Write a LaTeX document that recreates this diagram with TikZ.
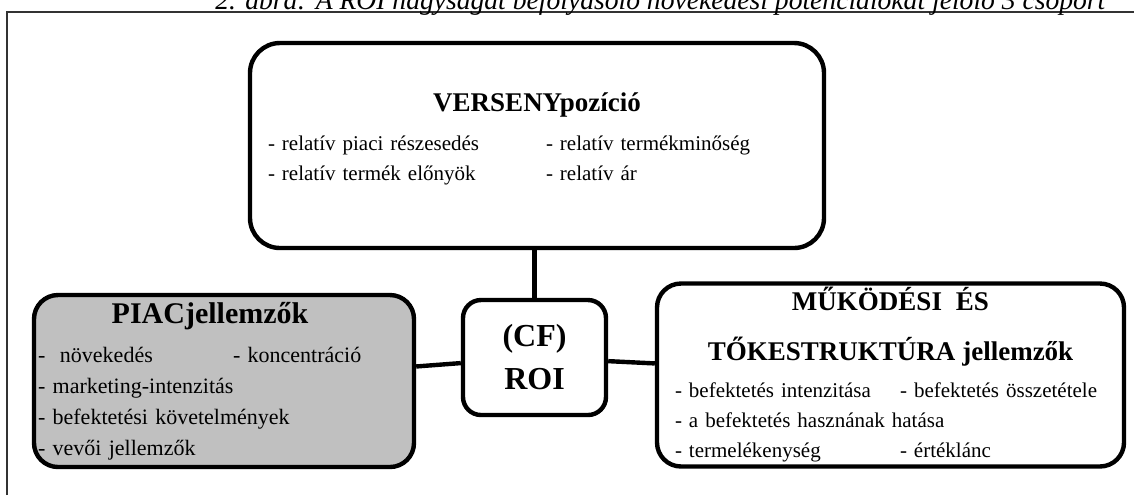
\documentclass[tikz,border=0pt]{standalone}
\usepackage{fontspec}
\setmainfont{Liberation Serif}
\usepackage{xcolor}
\definecolor{piacgray}{RGB}{192,192,192}
\usetikzlibrary{positioning}

\newcommand{\headfont}{\fontsize{13.5}{21}\selectfont\bfseries}
\newcommand{\itemfont}{\fontsize{10.5}{15}\selectfont}

\begin{document}
\begin{tikzpicture}[x=0.5pt, y=-0.5pt,
    box/.style={rectangle, rounded corners=12pt, draw=black, line width=2.2pt,
      inner sep=2pt, align=left, font=\itemfont},
    link/.style={line width=2.2pt},
    frame/.style={line width=0.9pt, black!80}
  ]
    \useasboundingbox (0,0) rectangle (1134,495);

    % Frame and the cut caption
    \draw[frame] (7,495) -- (7,12) -- (1134,12);
    \node[anchor=base west, inner sep=0pt, font=\fontsize{13.8}{16}\selectfont\itshape] (caption) at (215,9)
      {2. ábra: A ROI nagyságát befolyásoló növekedési potenciálokat jelölő 3 csoport};

    % Boxes
    \node[box, rounded corners=15pt, minimum width=287pt, minimum height=102.5pt, text width=269pt] (verseny) at (537,145.5)
      {\vspace*{2pt}{\centering\headfont VERSENYpozíció\par}\vspace{2.5pt}
       \makebox[139pt][l]{- relatív piaci részesedés}- relatív termékminőség\\
       \makebox[139pt][l]{- relatív termék előnyök}- relatív ár\\[-6pt]\mbox{}};
    \node[box, fill=piacgray, minimum width=189pt, minimum height=86pt, text width=186pt,
      font=\fontsize{11}{15.5}\selectfont] (piac) at (224,381)
      {\vspace*{3pt}{\centering\fontsize{15}{21}\selectfont\bfseries PIACjellemzők\hspace*{14pt}\par}\vspace{1pt}
       \makebox[97.5pt][l]{-\ \ növekedés}- koncentráció\\
       - marketing-intenzitás\\
       - befektetési követelmények\\
       - vevői jellemzők};
    \node[box, minimum width=233.5pt, minimum height=90pt, text width=215.5pt] (muk) at (890.5,375)
      {\vspace*{4pt}{\centering\headfont MŰKÖDÉSI\ \ ÉS\\ TŐKESTRUKTÚRA jellemzők\par}\vspace{3.5pt}
       \makebox[112.5pt][l]{- befektetés intenzitása}- befektetés összetétele\\
       - a befektetés hasznának hatása\\
       \makebox[112.5pt][l]{- termelékenység}- értéklánc};
    \node[box, rounded corners=9pt, minimum width=71.5pt, minimum height=57.5pt, align=center,
      font=\fontsize{16}{21.5}\selectfont\bfseries] (roi) at (534.5,357.5) {(CF)\\ROI};

    % Links to ROI
    \draw[link] (roi) -- (roi |- verseny.south);
    \draw[link] (roi) -- (piac);
    \draw[link] (roi) -- (muk);
  \end{tikzpicture}
\end{document}
